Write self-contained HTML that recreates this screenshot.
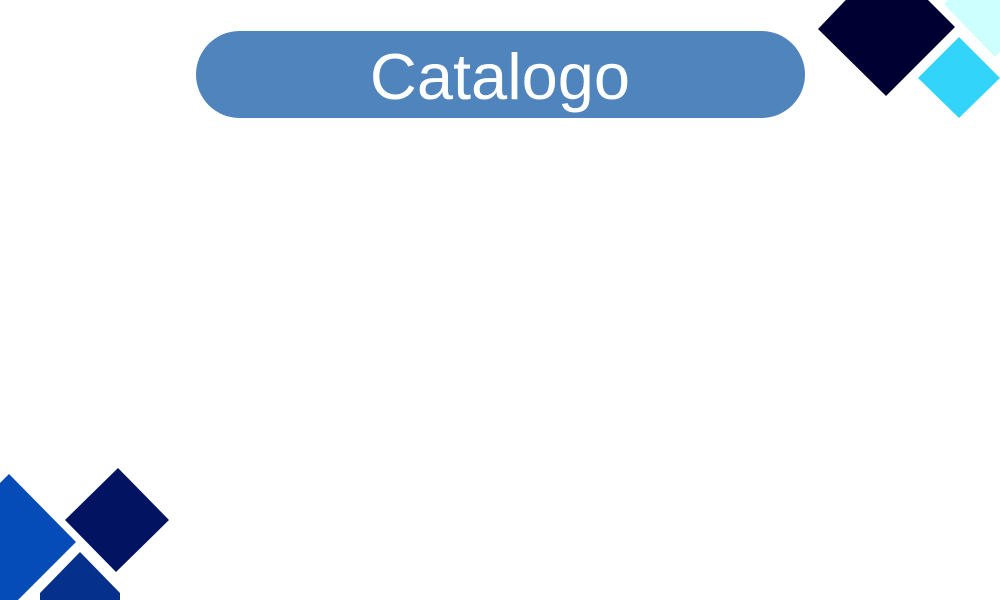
<!DOCTYPE html>
<html><head><style>
html,body{margin:0;padding:0;background:#fff;width:1000px;height:600px;overflow:hidden;}
body{position:relative;}
svg{display:block;overflow:hidden;}
</style></head><body>
<svg width="1000" height="600" viewBox="0 0 1000 600" style="position:absolute;left:0;top:0">
<rect x="196" y="31" width="609" height="87" rx="43.5" fill="#4f84bd"/>
<text x="500" y="99" text-anchor="middle" font-family="Liberation Sans, sans-serif" font-size="65" fill="#fff">Catalogo</text>
<polygon points="818,29 886,96 955,27 886,-42" fill="#000033"/>
<polygon points="944,4 995,57 1060,-8 1009,-61" fill="#ccfffe"/>
<polygon points="918,78 959,37 1000,78 959,118" fill="#33d4fa"/>
<polygon points="9,474 76,542 18,600 0,600 0,483" fill="#054cb8"/>
<polygon points="118,468 169,520 116,572 65,520" fill="#021362"/>
<polygon points="80,552 120,593 120,600 40,600 40,593" fill="#05318d"/>
</svg>
</body></html>
